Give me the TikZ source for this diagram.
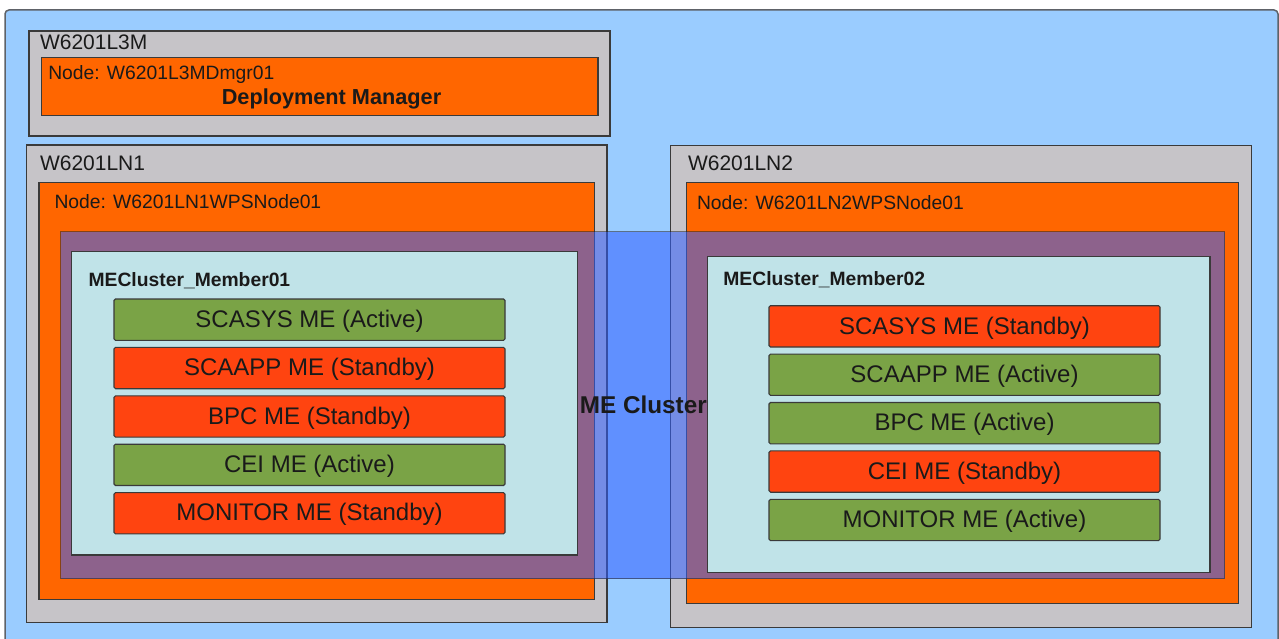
\documentclass[tikz,border=0pt]{standalone}
\usepackage{fontspec}
\setmainfont{Liberation Sans}
\usetikzlibrary{fit}
\definecolor{bgblue}{HTML}{9ACCFF}
\definecolor{bgedge}{HTML}{5E6268}
\definecolor{machgrey}{HTML}{C6C4C8}
\definecolor{nodeorange}{HTML}{FF6600}
\definecolor{clusterblue}{RGB}{49,95,255}
\definecolor{membercyan}{HTML}{C0E3E8}
\definecolor{megreen}{HTML}{7AA346}
\definecolor{mered}{HTML}{FF4410}
\definecolor{edgedark}{HTML}{3A3A3A}
\definecolor{txt}{HTML}{1A1A1A}
\tikzset{
  every node/.style={inner sep=0pt, outer sep=0pt, text=txt},
  boxbase/.style={draw=edgedark, line width=1.1pt},
  machine/.style={boxbase, fill=machgrey},
  wasnode/.style={boxbase, fill=nodeorange},
  clusterbox/.style={draw=black!85, line width=1.1pt, fill=clusterblue, opacity=0.55},
  memberbox/.style={boxbase, fill=membercyan},
  meactive/.style={boxbase, fill=megreen, rounded corners=1.5pt},
  mestandby/.style={boxbase, fill=mered, rounded corners=1.5pt},
  machlabel/.style={anchor=base west, font=\fontsize{21}{25}\selectfont},
  nodelabel/.style={anchor=base west, font=\fontsize{19.3}{23}\selectfont},
  memberlabel/.style={anchor=base west, font=\fontsize{19.3}{23}\selectfont\bfseries},
  boldtitle/.style={anchor=base, font=\fontsize{21.7}{25}\selectfont\bfseries},
  metext/.style={anchor=base, font=\fontsize{24}{28}\selectfont},
}
\begin{document}
\begin{tikzpicture}[x=1pt,y=-1pt]
\useasboundingbox (0,0) rectangle (1279,639);
% background
\draw[fill=bgblue, draw=bgedge, line width=1.5pt, rounded corners=4pt] (5,10) rectangle (1278,660);

% deployment manager machine
\node[machine, fit={(29,31) (610,136)}] (m3) {};
\node[wasnode, fit={(41.5,57.3) (598,115.7)}] (n3) {};
\node[machlabel] (m3lbl) at (40,50) {W6201L3M};
\node[nodelabel] (n3lbl) at (48.3,80) {Node: W6201L3MDmgr01};
\node[boldtitle] (dmgr) at (331.5,105) {Deployment Manager};

% LN1
\node[machine, fit={(26.5,145) (607,622.3)}] (m1) {};
\node[wasnode, fit={(39,182.7) (594.5,599.3)}] (n1) {};
\node[machlabel] (m1lbl) at (40,170.5) {W6201LN1};
\node[nodelabel] (n1lbl) at (54.5,208.3) {Node: W6201LN1WPSNode01};

% LN2
\node[machine, fit={(670.5,145.5) (1251.5,627.3)}] (m2) {};
\node[wasnode, fit={(686.5,182.7) (1238.5,603.5)}] (n2) {};
\node[machlabel] (m2lbl) at (688,170.7) {W6201LN2};
\node[nodelabel] (n2lbl) at (697,209) {Node: W6201LN2WPSNode01};

% ME cluster
\node[clusterbox, fit={(60.5,231.7) (1224.5,578.7)}] (cl) {};

% members
\node[memberbox, fit={(71.5,251.7) (577.3,555)}] (mem1) {};
\node[memberlabel] (mem1lbl) at (88.6,286) {MECluster\_Member01};
\node[memberbox, fit={(707.3,256.7) (1210,572.5)}] (mem2) {};
\node[memberlabel] (mem2lbl) at (723.4,285.7) {MECluster\_Member02};

\node[boldtitle, font=\fontsize{24.3}{28}\selectfont\bfseries] (cllbl) at (643.3,413.3) {ME Cluster};

% member 01 MEs
\node[meactive,  fit={(114,299.0) (505,340.3)}] (a1) {};
\node[metext] at (309.5,327.3) (a1t) {SCASYS ME (Active)};
\node[mestandby, fit={(114,347.4) (505,388.7)}] (a2) {};
\node[metext] at (309.5,375.7) (a2t) {SCAAPP ME (Standby)};
\node[mestandby, fit={(114,395.8) (505,437.1)}] (a3) {};
\node[metext] at (309.5,424.1) (a3t) {BPC ME (Standby)};
\node[meactive,  fit={(114,444.2) (505,485.5)}] (a4) {};
\node[metext] at (309.5,472.5) (a4t) {CEI ME (Active)};
\node[mestandby, fit={(114,492.6) (505,533.9)}] (a5) {};
\node[metext] at (309.5,520.9) (a5t) {MONITOR ME (Standby)};

% member 02 MEs
\node[mestandby, fit={(769,305.7) (1160,347.0)}] (b1) {};
\node[metext] at (964.5,334.0) (b1t) {SCASYS ME (Standby)};
\node[meactive,  fit={(769,354.1) (1160,395.4)}] (b2) {};
\node[metext] at (964.5,382.4) (b2t) {SCAAPP ME (Active)};
\node[meactive,  fit={(769,402.5) (1160,443.8)}] (b3) {};
\node[metext] at (964.5,430.8) (b3t) {BPC ME (Active)};
\node[mestandby, fit={(769,450.9) (1160,492.2)}] (b4) {};
\node[metext] at (964.5,479.2) (b4t) {CEI ME (Standby)};
\node[meactive,  fit={(769,499.3) (1160,540.6)}] (b5) {};
\node[metext] at (964.5,527.6) (b5t) {MONITOR ME (Active)};
\end{tikzpicture}
\end{document}
